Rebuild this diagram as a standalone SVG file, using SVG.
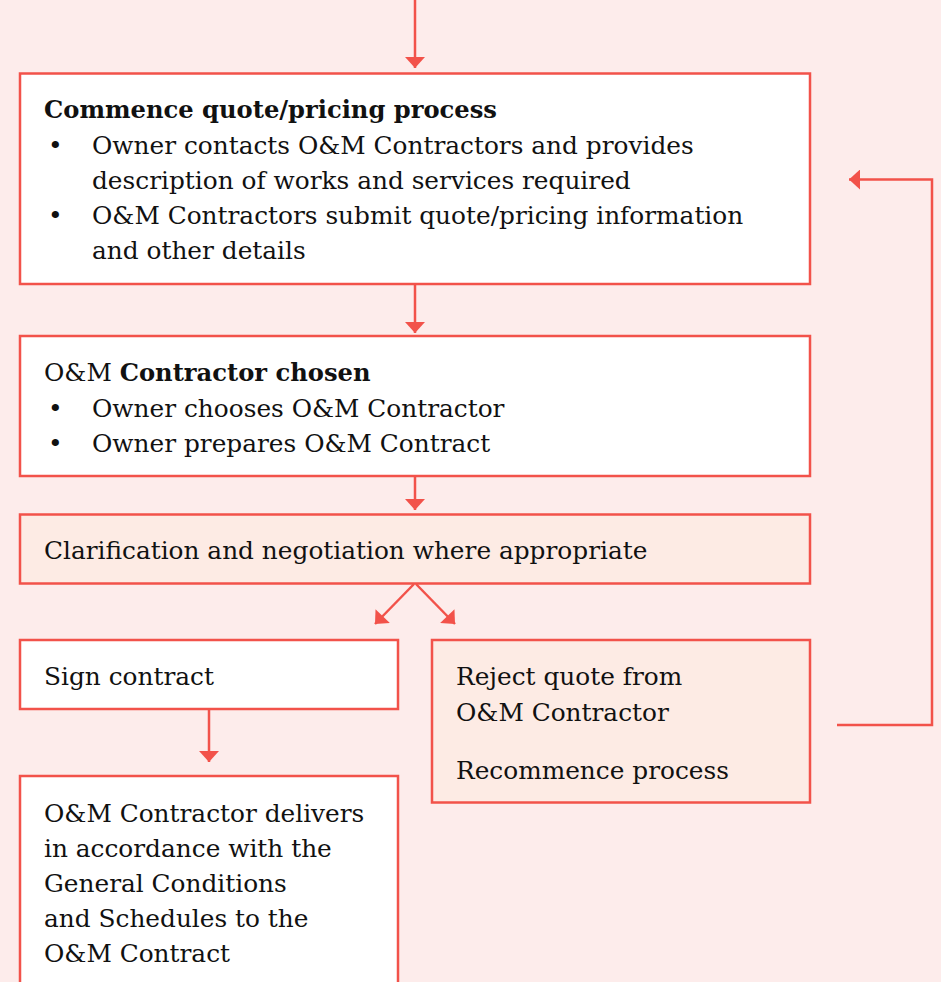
<svg xmlns="http://www.w3.org/2000/svg" width="941" height="982" viewBox="0 0 941 982">
<style>
.box{fill:#ffffff;stroke:#f2524a;stroke-width:2.5}
.peach{fill:#fdebe4;stroke:#f2524a;stroke-width:2.5}
.t{font-family:"DejaVu Serif","Liberation Serif",serif;font-size:24.8px;fill:#111111}
.b{font-weight:bold;font-size:24.2px}
.con{stroke:#f2524a;stroke-width:2.5;fill:none}
</style>
<defs>
<marker id="ah" markerWidth="20" markerHeight="20" viewBox="0 0 11 20" refX="11" refY="10" orient="auto" markerUnits="userSpaceOnUse">
<path d="M0,0 L11,10 L0,20 Z" fill="#f2524a"/>
</marker>
</defs>
<rect x="0" y="0" width="941" height="982" fill="#fdeceb"/>
<g id="connectors">
<line class="con" x1="415" y1="0" x2="415" y2="68" marker-end="url(#ah)"/>
<line class="con" x1="415" y1="284" x2="415" y2="333" marker-end="url(#ah)"/>
<line class="con" x1="415" y1="476" x2="415" y2="510" marker-end="url(#ah)"/>
<line class="con" x1="414" y1="584" x2="375" y2="624" marker-end="url(#ah)"/>
<line class="con" x1="416" y1="584" x2="455" y2="624" marker-end="url(#ah)"/>
<line class="con" x1="209" y1="709" x2="209" y2="762" marker-end="url(#ah)"/>
<polyline class="con" points="837,725 932,725 932,179.5 849,179.5" marker-end="url(#ah)"/>
</g>
<g id="node-commence">
<rect class="box" x="20" y="73.5" width="790" height="210.5"/>
<text class="t b" x="44" y="118">Commence quote/pricing process</text>
<text class="t" x="48" y="154">•</text>
<text class="t" x="92" y="154">Owner contacts O&amp;M Contractors and provides</text>
<text class="t" x="92" y="189">description of works and services required</text>
<text class="t" x="48" y="224">•</text>
<text class="t" x="92" y="224">O&amp;M Contractors submit quote/pricing information</text>
<text class="t" x="92" y="259">and other details</text>
</g>
<g id="node-chosen">
<rect class="box" x="20" y="336" width="790" height="140"/>
<text class="t" x="44" y="381">O&amp;M <tspan class="b">Contractor chosen</tspan></text>
<text class="t" x="48" y="417">•</text>
<text class="t" x="92" y="417">Owner chooses O&amp;M Contractor</text>
<text class="t" x="48" y="452">•</text>
<text class="t" x="92" y="452">Owner prepares O&amp;M Contract</text>
</g>
<g id="node-clarification">
<rect class="peach" x="20" y="514.5" width="790" height="69"/>
<text class="t" x="44" y="559">Clarification and negotiation where appropriate</text>
</g>
<g id="node-sign">
<rect class="box" x="20" y="640" width="378" height="69"/>
<text class="t" x="44" y="685">Sign contract</text>
</g>
<g id="node-reject">
<rect class="peach" x="432" y="640" width="378" height="162.5"/>
<text class="t" x="456" y="685">Reject quote from</text>
<text class="t" x="456" y="721">O&amp;M Contractor</text>
<text class="t" x="456" y="779">Recommence process</text>
</g>
<g id="node-delivers">
<rect class="box" x="20" y="776" width="378" height="230"/>
<text class="t" x="44" y="822">O&amp;M Contractor delivers</text>
<text class="t" x="44" y="857">in accordance with the</text>
<text class="t" x="44" y="892">General Conditions</text>
<text class="t" x="44" y="927">and Schedules to the</text>
<text class="t" x="44" y="962">O&amp;M Contract</text>
</g>
</svg>
